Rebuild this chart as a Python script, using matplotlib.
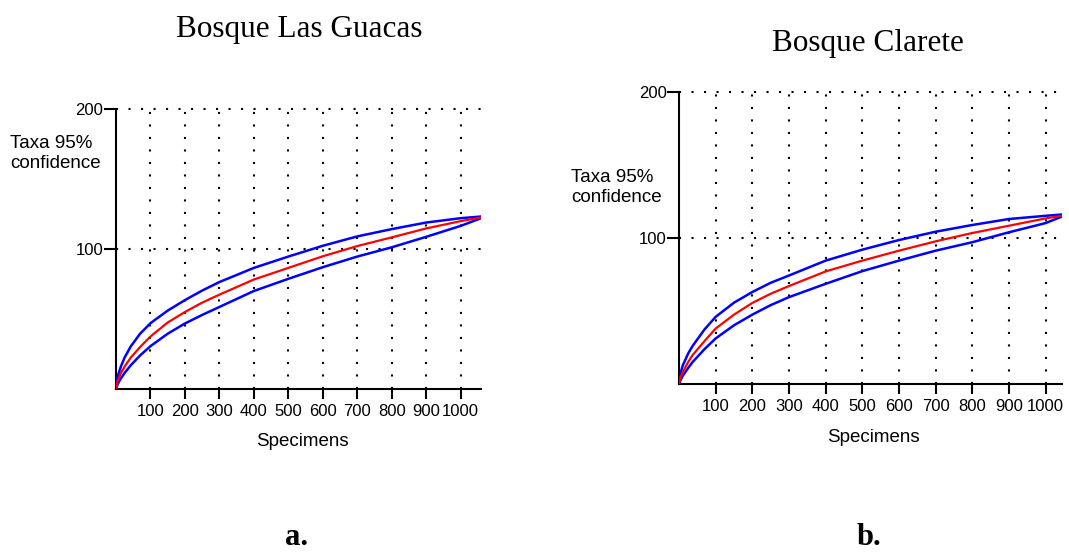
import matplotlib
matplotlib.use("Agg")
import matplotlib.pyplot as plt

# Specimens (x) at which values were read
x_a = [0, 5, 14, 25, 43, 70, 100, 150, 200, 250, 300, 400, 500, 600, 700, 800, 900, 1000, 1059]
mean_a = [0, 6.0, 11.3, 16.0, 22.5, 30.0, 37.5, 47.5, 55.0, 61.7, 67.4, 78.2, 86.5, 94.8, 102.1, 108.3, 114.7, 119.9, 122.5]
upper_a = [0, 9.0, 16.0, 22.5, 30.5, 39.5, 47.0, 56.0, 63.5, 70.3, 76.4, 86.5, 94.6, 102.3, 109.0, 114.2, 118.9, 122.0, 123.2]
lower_a = [0, 3.5, 7.5, 11.5, 17.0, 24.0, 30.6, 39.5, 46.8, 52.9, 58.6, 70.0, 78.7, 87.0, 94.6, 101.2, 108.7, 116.5, 122.0]

x_b = [0, 5, 10, 25, 37, 70, 100, 150, 200, 250, 300, 400, 500, 600, 700, 800, 900, 1000, 1045]
mean_b = [0, 5.0, 8.0, 15.0, 19.8, 29.5, 38.0, 47.5, 55.5, 61.8, 67.1, 77.1, 84.5, 91.3, 97.7, 103.4, 108.4, 113.4, 115.2]
upper_b = [0, 8.0, 12.5, 20.9, 26.0, 37.5, 46.0, 55.7, 63.0, 69.3, 74.3, 84.5, 92.0, 98.6, 104.3, 108.9, 113.0, 115.2, 116.1]
lower_b = [0, 3.0, 5.5, 11.0, 15.0, 24.0, 31.2, 40.2, 47.5, 54.0, 59.5, 68.6, 77.3, 84.5, 91.3, 97.1, 103.9, 110.2, 114.7]

x_ticks = [100, 200, 300, 400, 500, 600, 700, 800, 900, 1000]
y_ticks = [100, 200]
titles = ["Bosque Las Guacas", "Bosque Clarete"]
panel_labels = ["a.", "b."]

sans = ["Liberation Sans", "DejaVu Sans"]
serif = ["Liberation Serif", "DejaVu Serif"]

fig = plt.figure(figsize=(10.69, 5.52), dpi=100)

W, H = 1069, 552
def rect(l, r, t, b):
    return [l / W, 1 - b / H, (r - l) / W, (b - t) / H]

specs = [
    dict(rect=rect(116, 481, 109, 389), xmax=1059, x=x_a, m=mean_a, u=upper_a, lo=lower_a,
         title_xy=(299, 30), lab_xy=(297, 545), ylab_xy=(10, 135), xlab_xy=(302, 441)),
    dict(rect=rect(679, 1062, 92, 384), xmax=1045, x=x_b, m=mean_b, u=upper_b, lo=lower_b,
         title_xy=(868, 43), lab_xy=(869, 545), ylab_xy=(571, 169), xlab_xy=(873, 438)),
]

for i, s in enumerate(specs):
    ax = fig.add_axes(s["rect"])
    ax.set_xlim(0, s["xmax"])
    ax.set_ylim(0, 200)
    for xv in x_ticks:
        ax.axvline(xv, color="black", linestyle=(0, (1, 5)), linewidth=1.5, zorder=1)
    for yv in y_ticks:
        ax.axhline(yv, color="black", linestyle=(0, (1, 5)), linewidth=1.5, zorder=1, clip_on=False)
    ax.plot(s["x"], s["u"], color="#0000ff", linewidth=1.8, zorder=3)
    ax.plot(s["x"], s["lo"], color="#0000ff", linewidth=1.8, zorder=3)
    ax.plot(s["x"], s["m"], color="#ff0000", linewidth=1.6, zorder=4)
    for sp in ["top", "right"]:
        ax.spines[sp].set_visible(False)
    for sp in ["left", "bottom"]:
        ax.spines[sp].set_linewidth(1.5)
    ax.set_xticks(x_ticks)
    ax.set_yticks(y_ticks)
    ax.tick_params(axis="x", length=7, width=1.5, pad=4, labelsize=12)
    ax.tick_params(axis="y", length=9, width=1.5, pad=0, labelsize=12)
    for lab in ax.get_xticklabels() + ax.get_yticklabels():
        lab.set_fontfamily(sans)
    ax.patch.set_alpha(0)

    tx, ty = s["title_xy"]
    fig.text(tx / W, 1 - ty / H, titles[i], ha="center", va="center",
             fontsize=22.5, family=serif)
    lx, ly = s["lab_xy"]
    fig.text(lx / W, 1 - ly / H, panel_labels[i], ha="center", va="baseline",
             fontsize=22, fontweight="bold", family=serif)
    yx, yy = s["ylab_xy"]
    fig.text(yx / W, 1 - yy / H, "Taxa 95%\nconfidence", ha="left", va="top",
             fontsize=13.5, family=sans, linespacing=1.25)
    xx, xy = s["xlab_xy"]
    fig.text(xx / W, 1 - xy / H, "Specimens", ha="center", va="center",
             fontsize=13.5, family=sans)

fig.savefig("out.png", dpi=100)
